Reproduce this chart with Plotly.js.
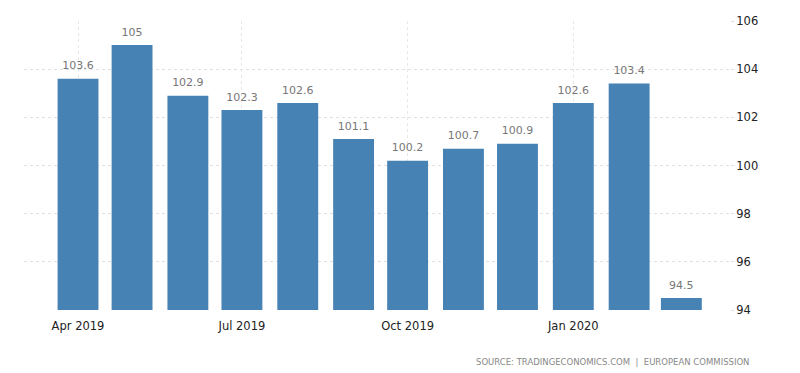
<!DOCTYPE html>
<html>
<head>
<meta charset="utf-8">
<script src="https://cdn.plot.ly/plotly-3.0.1.min.js"></script>
<style>html,body{margin:0;padding:0;background:#fff;}#chart{width:800px;height:373px;}</style>
</head>
<body>
<div id="chart"></div>
<script>
var months = ['2019-04-01','2019-05-01','2019-06-01','2019-07-01','2019-08-01','2019-09-01','2019-10-01','2019-11-01','2019-12-01','2020-01-01','2020-02-01','2020-03-01'];
var values = [103.6, 105, 102.9, 102.3, 102.6, 101.1, 100.2, 100.7, 100.9, 102.6, 103.4, 94.5];
var labels = values.map(function(v){ return String(v); });
var yTicks = [94, 96, 98, 100, 102, 104, 106];
var sourceText = 'SOURCE: TRADINGECONOMICS.COM  |  EUROPEAN COMMISSION';

var DAY = 86400000;
var bars = {
  type: 'bar',
  x: months,
  y: values,
  width: months.map(function(){ return 22.7 * DAY; }),
  marker: {color: '#4682b4', line: {width: 0}},
  hoverinfo: 'x+y'
};
var valueLabels = {
  type: 'scatter',
  mode: 'markers+text',
  x: months,
  y: values,
  text: labels,
  textposition: 'top center',
  textfont: {family: 'DejaVu Sans, Verdana, sans-serif', size: 11, color: '#777'},
  marker: {size: 9, opacity: 0},
  cliponaxis: false,
  hoverinfo: 'skip'
};

var layout = {
  width: 800, height: 373,
  margin: {l: 24, r: 70, t: 21, b: 63},
  paper_bgcolor: '#fff', plot_bgcolor: '#fff',
  showlegend: false,
  font: {family: 'DejaVu Sans, Verdana, sans-serif', size: 11, color: '#333'},
  xaxis: {
    type: 'date',
    range: ['2019-03-02', '2020-03-28'],
    tick0: '2019-04-01', dtick: 'M3',
    tickformat: '%b %Y',
    showgrid: true, gridcolor: '#e8e8e8', griddash: 'dot', gridwidth: 1,
    zeroline: false, showline: false,
    ticks: 'outside', ticklen: 5, tickcolor: 'rgba(0,0,0,0)',
    tickfont: {size: 11.5, color: '#222'}
  },
  yaxis: {
    side: 'right',
    range: [94, 106],
    tickvals: yTicks,
    ticktext: yTicks.map(String),
    showgrid: true, gridcolor: '#e0e0e0', griddash: 'dot', gridwidth: 1,
    zeroline: false, showline: false,
    ticks: 'outside', ticklen: 3, tickcolor: '#e0e0e0',
    tickfont: {size: 11.5, color: '#222'}
  },
  annotations: [{
    xref: 'paper', yref: 'paper', x: 1.03, y: -0.155, xanchor: 'right', yanchor: 'top',
    text: sourceText, showarrow: false,
    font: {family: 'DejaVu Sans, Verdana, sans-serif', size: 8.5, color: '#888'}
  }]
};

Plotly.newPlot('chart', [bars, valueLabels], layout, {staticPlot: true, displayModeBar: false});
</script>
</body>
</html>
